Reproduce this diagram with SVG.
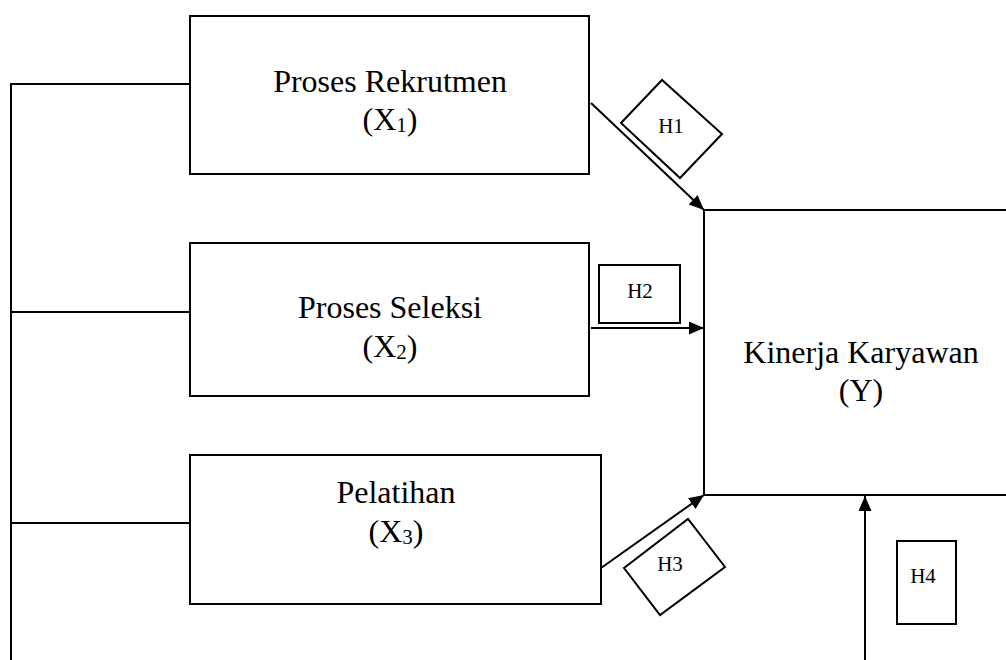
<svg xmlns="http://www.w3.org/2000/svg" width="1006" height="660" viewBox="0 0 1006 660">
<style>
.box{fill:#fff;stroke:#000;stroke-width:2}
.ln{fill:none;stroke:#000;stroke-width:2}
.t{font-family:"Liberation Serif","Times New Roman",serif;font-size:32px;fill:#000;text-anchor:middle}
.h{font-family:"Liberation Serif","Times New Roman",serif;font-size:21px;fill:#000;text-anchor:middle}
.sub{font-size:21px}
</style>
<defs>
<marker id="arr" markerUnits="userSpaceOnUse" markerWidth="16" markerHeight="14" refX="15" refY="6.5" orient="auto">
<path d="M0,0 L15,6.5 L0,13 Z" fill="#000"/>
</marker>
</defs>
<rect width="1006" height="660" fill="#fff"/>
<g id="connectors">
<path class="ln" d="M11,660 V84 H190 M11,312 H190 M11,523 H190"/>
<line class="ln" x1="591" y1="103" x2="704" y2="210" marker-end="url(#arr)"/>
<line class="ln" x1="591" y1="328" x2="704" y2="328" marker-end="url(#arr)"/>
<line class="ln" x1="601" y1="568" x2="704" y2="495" marker-end="url(#arr)"/>
<line class="ln" x1="865" y1="660" x2="865" y2="496" marker-end="url(#arr)"/>
</g>
<g id="x1">
<rect class="box" x="190" y="16" width="399" height="158"/>
<text class="t" x="390" y="92">Proses Rekrutmen</text>
<text class="t" x="390" y="130">(X<tspan class="sub" dy="2">1</tspan><tspan dy="-2">)</tspan></text>
</g>
<g id="x2">
<rect class="box" x="190" y="243" width="399" height="153"/>
<text class="t" x="390" y="318">Proses Seleksi</text>
<text class="t" x="390" y="357">(X<tspan class="sub" dy="2">2</tspan><tspan dy="-2">)</tspan></text>
</g>
<g id="x3">
<rect class="box" x="190" y="455" width="411" height="149"/>
<text class="t" x="396" y="503">Pelatihan</text>
<text class="t" x="396" y="542">(X<tspan class="sub" dy="2">3</tspan><tspan dy="-2">)</tspan></text>
</g>
<g id="y">
<path class="ln" d="M1006,210 H704 V495 H1006"/>
<text class="t" x="861" y="363">Kinerja Karyawan</text>
<text class="t" x="861" y="401">(Y)</text>
</g>
<g id="h1">
<polygon class="box" points="621,123 662,80 722,134 680,178"/>
<text class="h" x="671" y="133">H1</text>
</g>
<g id="h2">
<rect class="box" x="599" y="265" width="81" height="58"/>
<text class="h" x="640" y="298">H2</text>
</g>
<g id="h3">
<polygon class="box" points="624,568 688,519 725,567 660,615"/>
<text class="h" x="670" y="571">H3</text>
</g>
<g id="h4">
<rect class="box" x="897" y="541" width="59" height="83"/>
<text class="h" x="923" y="583">H4</text>
</g>
</svg>
